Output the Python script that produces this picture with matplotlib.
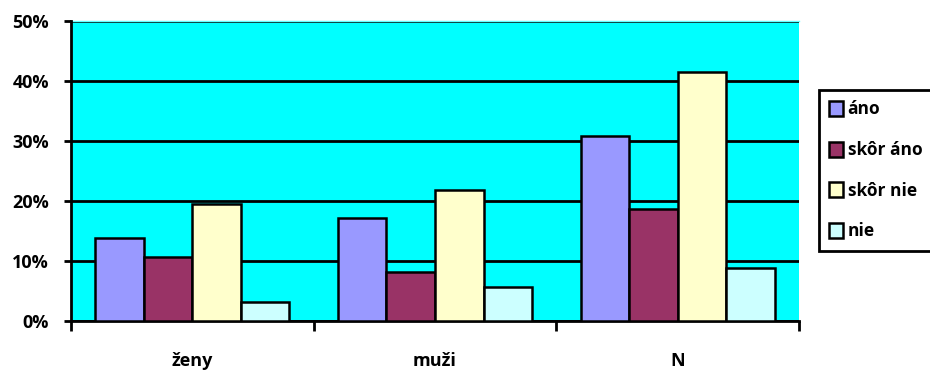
import matplotlib
matplotlib.use('Agg')
import matplotlib.pyplot as plt
import numpy as np
from matplotlib.ticker import FixedLocator, PercentFormatter

categories = ['ženy', 'muži', 'N']
series = ['áno', 'skôr áno', 'skôr nie', 'nie']
ano = [13.8, 17.1, 30.9]
skor_ano = [10.6, 8.1, 18.6]
skor_nie = [19.5, 21.9, 41.5]
nie = [3.2, 5.7, 8.9]
colors = ['#9999ff', '#993366', '#ffffcc', '#ccffff']

plt.rcParams['font.family'] = ['Open Sans', 'DejaVu Sans']
plt.rcParams['font.weight'] = 'bold'

fig = plt.figure(figsize=(9.3, 3.71), dpi=100)
ax = fig.add_axes([71 / 930, 50 / 371, 728 / 930, 300 / 371])
ax.set_facecolor('#00ffff')

x = np.arange(len(categories))
width = 0.2
for i, (vals, name) in enumerate(zip([ano, skor_ano, skor_nie, nie], series)):
    ax.bar(x - 0.3 + i * width, vals, width, color=colors[i], edgecolor='black',
           linewidth=1.8, label=name, zorder=3)

ax.set_xlim(-0.5, 2.5)
ax.set_ylim(0, 50)
ax.set_yticks(np.arange(0, 51, 10))
ax.yaxis.set_major_formatter(PercentFormatter(decimals=0))
ax.grid(axis='y', color='black', linewidth=2, zorder=1)
ax.set_axisbelow(True)

ax.set_xticks(x)
ax.set_xticklabels(categories)
ax.xaxis.set_minor_locator(FixedLocator([-0.5, 0.5, 1.5, 2.5]))
ax.tick_params(axis='x', which='major', length=0, pad=22, labelsize=13)
ax.tick_params(axis='x', which='minor', length=7, width=2, direction='out')
ax.tick_params(axis='y', length=5, width=2, direction='out', labelsize=13, pad=11)
for lbl in ax.get_xticklabels() + ax.get_yticklabels():
    lbl.set_fontweight('bold')

for side in ['top', 'right']:
    ax.spines[side].set_visible(False)
for side in ['left', 'bottom']:
    ax.spines[side].set_linewidth(2)
ax.axhline(50, color='#66ffff', linewidth=1, zorder=2, clip_on=False)

leg = fig.legend(loc='upper left', bbox_to_anchor=(819 / 930, 1 - 90 / 371),
                 fancybox=False, framealpha=1, edgecolor='black',
                 prop={'size': 12.5, 'weight': 'bold'},
                 handlelength=0.8, handleheight=0.95, handletextpad=0.25,
                 labelspacing=1.3, borderpad=0.6, borderaxespad=0)
leg.get_frame().set_linewidth(2)
for patch in leg.get_patches():
    patch.set_linewidth(1.8)

fig.savefig('out.png', dpi=100)
